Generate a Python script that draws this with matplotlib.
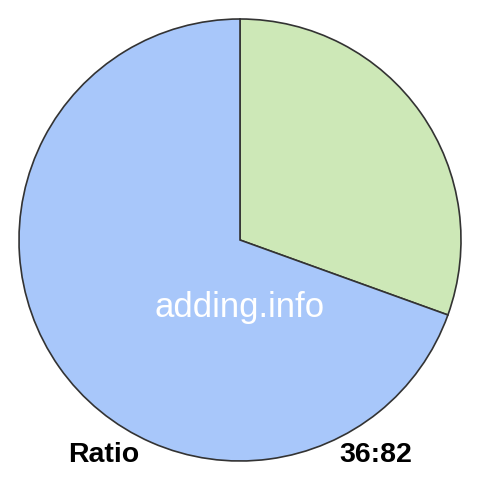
import matplotlib
matplotlib.use("Agg")
import matplotlib.pyplot as plt

labels = ["Part A", "Part B"]
values = [36, 82]
colors = ["#cde8b7", "#a8c7fa"]
left_label = "Ratio"
right_label = "36:82"
watermark = "adding.info"

fig = plt.figure(figsize=(4.8, 4.8), dpi=100)
ax = fig.add_axes([0, 0, 1, 1])
ax.pie(values, colors=colors, startangle=90, counterclock=False,
       radius=1.0, wedgeprops=dict(edgecolor="#333333", linewidth=1.2))
R = 221.0
ax.set_xlim(-240 / R, 240 / R)
ax.set_ylim(-240 / R, 240 / R)
ax.set_aspect("equal")
ax.axis("off")

font = "Liberation Sans"
fig.text(240 / 480, 1 - 317 / 480, watermark, color="white", fontsize=25,
         family=font, ha="center", va="baseline")
fig.text(68 / 480, 1 - 462 / 480, left_label, color="black", fontsize=20.5,
         fontweight="bold", family=font, ha="left", va="baseline")
fig.text(412 / 480, 1 - 462 / 480, right_label, color="black", fontsize=20.5,
         fontweight="bold", family=font, ha="right", va="baseline")

fig.savefig("out.png", dpi=100)
